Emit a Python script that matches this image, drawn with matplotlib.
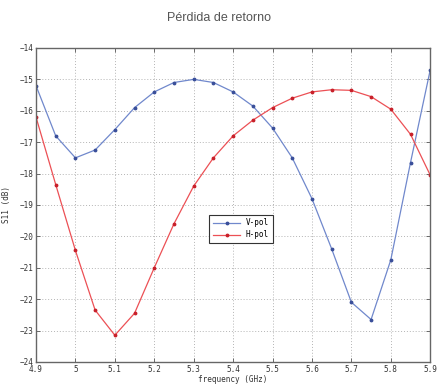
import numpy as np
import matplotlib
matplotlib.use("Agg")
import matplotlib.pyplot as plt

# frequency points (GHz)
freq = [4.9, 4.95, 5.0, 5.05, 5.1, 5.15, 5.2, 5.25, 5.3, 5.35, 5.4,
        5.45, 5.5, 5.55, 5.6, 5.65, 5.7, 5.75, 5.8, 5.85, 5.9]

# S11 values (dB)
v_pol = [-15.2, -16.8, -17.5, -17.25, -16.6, -15.9, -15.4, -15.1, -15.0, -15.1, -15.4,
         -15.85, -16.55, -17.5, -18.8, -20.4, -22.1, -22.65, -20.75, -17.65, -14.7]
h_pol = [-16.2, -18.35, -20.45, -22.35, -23.15, -22.45, -21.0, -19.6, -18.4, -17.5, -16.8,
         -16.3, -15.9, -15.6, -15.4, -15.33, -15.35, -15.55, -15.95, -16.75, -18.05]

xticks = [4.9, 5.0, 5.1, 5.2, 5.3, 5.4, 5.5, 5.6, 5.7, 5.8, 5.9]
xtick_labels = ["4.9", "5", "5.1", "5.2", "5.3", "5.4", "5.5", "5.6", "5.7", "5.8", "5.9"]
yticks = list(range(-24, -13))

fig = plt.figure(figsize=(4.39, 3.9), dpi=100)
ax = fig.add_axes([0.082, 0.072, 0.898, 0.805])

ax.plot(freq, v_pol, color="#7088cc", linewidth=0.9, marker=".", markersize=3.5,
        markerfacecolor="#3a4f9a", markeredgecolor="#3a4f9a", label="V-pol")
ax.plot(freq, h_pol, color="#ec5055", linewidth=0.9, marker=".", markersize=3.5,
        markerfacecolor="#c8202a", markeredgecolor="#c8202a", label="H-pol")

ax.set_xlim(4.9, 5.9)
ax.set_ylim(-24, -14)
ax.set_xticks(xticks)
ax.set_xticklabels(xtick_labels)
ax.set_yticks(yticks)

mono = "DejaVu Sans Mono"
for lab in ax.get_xticklabels() + ax.get_yticklabels():
    lab.set_fontfamily(mono)
    lab.set_fontsize(5.5)
    lab.set_color("#333333")

ax.tick_params(direction="in", top=True, right=True, length=3, width=0.6, pad=2,
               color="#555555")
ax.grid(True, linestyle=(0, (1, 2)), color="#b4b4b4", linewidth=0.7)
for s in ax.spines.values():
    s.set_color("#666666")
    s.set_linewidth(1.0)

ax.set_xlabel("frequency (GHz)", fontfamily=mono, fontsize=5.5, color="#333333",
              labelpad=1)
ax.set_ylabel("S11 (dB)", fontfamily=mono, fontsize=5.5, color="#333333", labelpad=6)

leg = ax.legend(loc="lower left", bbox_to_anchor=(0.43, 0.366), prop={"family": mono, "size": 5.5},
                fancybox=False, framealpha=1, edgecolor="#333333", handlelength=3.5,
                borderpad=0.5, labelspacing=0.4)
leg.get_frame().set_linewidth(0.8)

fig.text(0.5, 0.955, "Pérdida de retorno", ha="center", va="center",
         fontsize=9, color="#555555", fontfamily="Liberation Sans")

fig.savefig("out.png", dpi=100)
